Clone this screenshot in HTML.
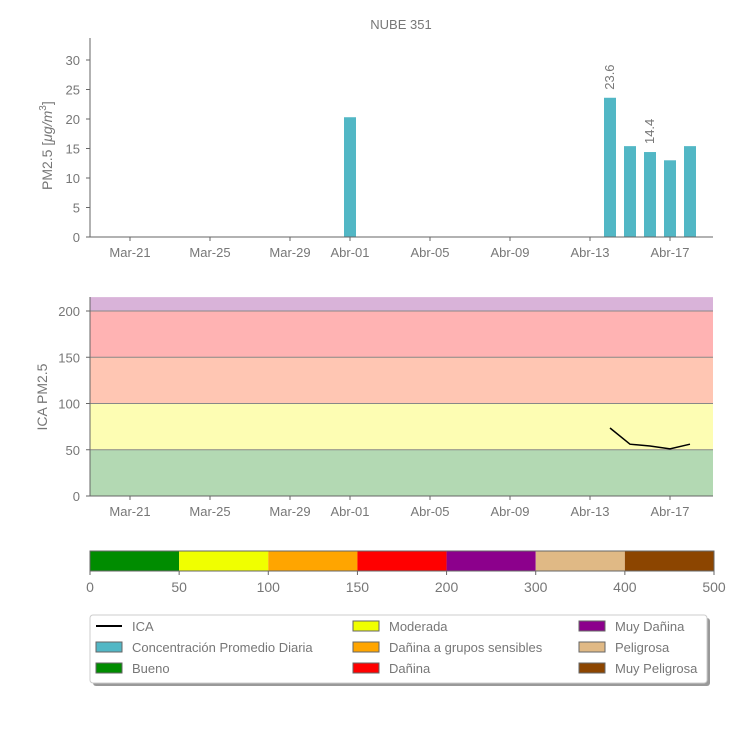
<!DOCTYPE html>
<html><head><meta charset="utf-8"><style>
body{margin:0;background:#fff;font-family:"Liberation Sans",sans-serif;}
svg text{font-family:"Liberation Sans",sans-serif;fill:#777;}
</style></head><body>
<svg id="c" width="750" height="750" xmlns="http://www.w3.org/2000/svg"></svg>
<script>
const dayLabels=["Mar-21","Mar-25","Mar-29","Abr-01","Abr-05","Abr-09","Abr-13","Abr-17"];
const dayTicks=[0,4,8,11,15,19,23,27];
const barDays=[11,24,25,26,27,28];
const barValues=[20.3,23.6,15.4,14.4,13.0,15.4];
const barLabels=["","23.6","","14.4","",""];
const icaDays=[24,25,26,27,28];
const icaValues=[73.5,56,54,51,56];
const pmTicks=[0,5,10,15,20,25,30];
const icaTicks=[0,50,100,150,200];
const bands=[[0,50,"#b3d9b3"],[50,100,"#fdfdb3"],[100,150,"#ffc6b3"],[150,200,"#ffb3b3"],[200,215,"#d9b3d9"]];
const cbTicks=[0,50,100,150,200,300,400,500];
const cbColors=["#008c00","#f0ff00","#ffa500","#ff0000","#8c008c","#e0b985","#8c4500"];

const svg=document.getElementById('c');const NS="http://www.w3.org/2000/svg";
function el(t,a,p){const e=document.createElementNS(NS,t);for(const k in a)e.setAttribute(k,a[k]);(p||svg).appendChild(e);return e;}
function tx(x,y,s,a){const e=el('text',Object.assign({x:x,y:y},a||{}));e.textContent=s;return e;}
const X=d=>130+(d)*20;
const Y1=v=>237-v*5.9;
const Y2=v=>496-v*0.925;

tx(401,29,"NUBE 351",{'text-anchor':'middle','font-size':13,fill:'#999'});
// top chart
let g=el('g',{});

barDays.forEach((d,i)=>{const r=el('rect',{x:X(d)-6,y:Y1(barValues[i]),width:12,height:237-Y1(barValues[i]),fill:'#52b7c5'},g);

if(barLabels[i]){const t=tx(0,0,barLabels[i],{transform:`translate(${X(d)+4},${Y1(barValues[i])-8}) rotate(-90)`,'font-size':13});}});
el('line',{x1:90,y1:38,x2:90,y2:237,stroke:'#666'},g);
el('line',{x1:90,y1:237,x2:713,y2:237,stroke:'#666'},g);
pmTicks.forEach(v=>{el('line',{x1:86,x2:90,y1:Y1(v),y2:Y1(v),stroke:'#666'},g);tx(80,Y1(v)+5,v,{'text-anchor':'end','font-size':13});});
dayTicks.forEach((d,i)=>{el('line',{x1:X(d),x2:X(d),y1:237,y2:241,stroke:'#666'},g);tx(X(d),257,dayLabels[i],{'text-anchor':'middle','font-size':13});});
const yt=tx(0,0,"PM2.5 [",{transform:'translate(52,190) rotate(-90)','font-size':14});
yt.innerHTML='PM2.5 [<tspan font-style="italic">μg/m</tspan><tspan font-size="10" dy="-6">3</tspan><tspan dy="6">]</tspan>';

// bottom chart
g=el('g',{});
bands.forEach(b=>{el('rect',{x:90,y:Y2(b[1]),width:623,height:Y2(b[0])-Y2(b[1]),fill:b[2]},g);});
[50,100,150,200].forEach(v=>el('line',{x1:90,x2:713,y1:Y2(v),y2:Y2(v),stroke:'#888','stroke-width':1},g));
const line=el('polyline',{points:icaDays.map((d,i)=>X(d)+','+Y2(icaValues[i])).join(' '),fill:'none',stroke:'#000','stroke-width':1.5},g);

el('line',{x1:90,y1:297,x2:90,y2:496,stroke:'#666'},g);
el('line',{x1:90,y1:496,x2:713,y2:496,stroke:'#666'},g);
icaTicks.forEach(v=>{el('line',{x1:86,x2:90,y1:Y2(v),y2:Y2(v),stroke:'#666'},g);tx(80,Y2(v)+5,v,{'text-anchor':'end','font-size':13});});
dayTicks.forEach((d,i)=>{el('line',{x1:X(d),x2:X(d),y1:496,y2:500,stroke:'#666'},g);tx(X(d),516,dayLabels[i],{'text-anchor':'middle','font-size':13});});
const yt2=tx(0,0,"ICA PM2.5",{transform:'translate(47,397) rotate(-90)','text-anchor':'middle','font-size':14});

// colorbar
g=el('g',{});
const cw=624/7;
cbColors.forEach((c,i)=>el('rect',{x:90+i*cw,y:551,width:cw,height:20,fill:c},g));
el('rect',{x:90,y:551,width:624,height:20,fill:'none',stroke:'#666'},g);
cbTicks.forEach((v,i)=>{el('line',{x1:90+i*cw,x2:90+i*cw,y1:571,y2:575,stroke:'#666'},g);tx(90+i*cw,592,v,{'text-anchor':'middle','font-size':14});});
// legend
g=el('g',{});
el('rect',{x:93,y:618,width:617,height:68,rx:3,fill:'#999'},g);
el('rect',{x:90,y:615,width:617,height:68,rx:3,fill:'#fff',stroke:'#ccc'},g);
const items=[[96,"ICA","line"],[96,"Concentración Promedio Diaria","#52b7c5"],[96,"Bueno","#008c00"],
[353,"Moderada","#f0ff00"],[353,"Dañina a grupos sensibles","#ffa500"],[353,"Dañina","#ff0000"],
[579,"Muy Dañina","#8c008c"],[579,"Peligrosa","#e0b985"],[579,"Muy Peligrosa","#8c4500"]];
items.forEach((it,i)=>{const y=626+(i%3)*21;const gi=el('g',{},g);

if(it[2]==='line')el('line',{x1:it[0],x2:it[0]+26,y1:y,y2:y,stroke:'#000','stroke-width':2},gi);
else el('rect',{x:it[0],y:y-5,width:26,height:10,fill:it[2],stroke:'#666'},gi);
tx(it[0]+36,y+5,it[1],{'font-size':13},gi);});
</script>
</body></html>
